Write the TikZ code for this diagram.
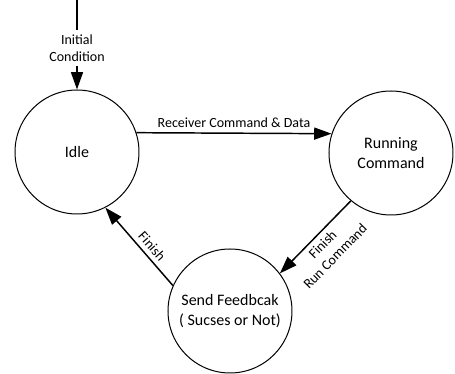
\documentclass[tikz,border=0pt]{standalone}
\usepackage{fontspec}
\setmainfont{Carlito}
\usepackage{tikz}
\usetikzlibrary{positioning}
\usetikzlibrary{arrows.meta,shapes}
\usetikzlibrary{calc}
\tikzstyle{state}=[circle,draw,line width=0.75pt,minimum size=93pt,inner sep=0pt,align=center,font=\fontsize{12}{14.5}\selectfont]
\tikzstyle{edge} = [draw,line width=1.1pt,-{Triangle[length=13pt,width=9pt]}]
\tikzstyle{undirectededge} = [draw,line width=1.1pt]
\tikzstyle{weight} = [font=\fontsize{10.5}{13}\selectfont]

\begin{document}
\begin{tikzpicture}[x=0.75pt,y=-0.75pt]
    \useasboundingbox (0,0) rectangle (455,374);

%states
    \foreach \pos/\name/\label in {{(77,152)/idle/Idle}, {(391,153)/run/Running\\Command}, {(230,311)/send/Send Feedbcak\\( Sucses or Not)}}
        \node[state] (\name) at \pos {\label};

%initial condition
    \coordinate (init) at (77,0);
    \node[weight,align=center,font=\fontsize{10.5}{12.75}\selectfont] (initlbl) at (77,48) {Initial\\Condition};
    \path[undirectededge] (init) -- (initlbl);
    \path[edge] (initlbl) -- (idle);

% transitions
    \path[edge] (idle.18) -- node[weight,above] {Receiver Command \& Data} (run.162);
    \path[edge] (run.230) -- node[weight,sloped,below,align=center] {Finish\\Run Command} (send.37);
    \path[edge] (send.156) -- node[weight,sloped,above,pos=0.42] {Finish} (idle.297);

\end{tikzpicture}
\end{document}
